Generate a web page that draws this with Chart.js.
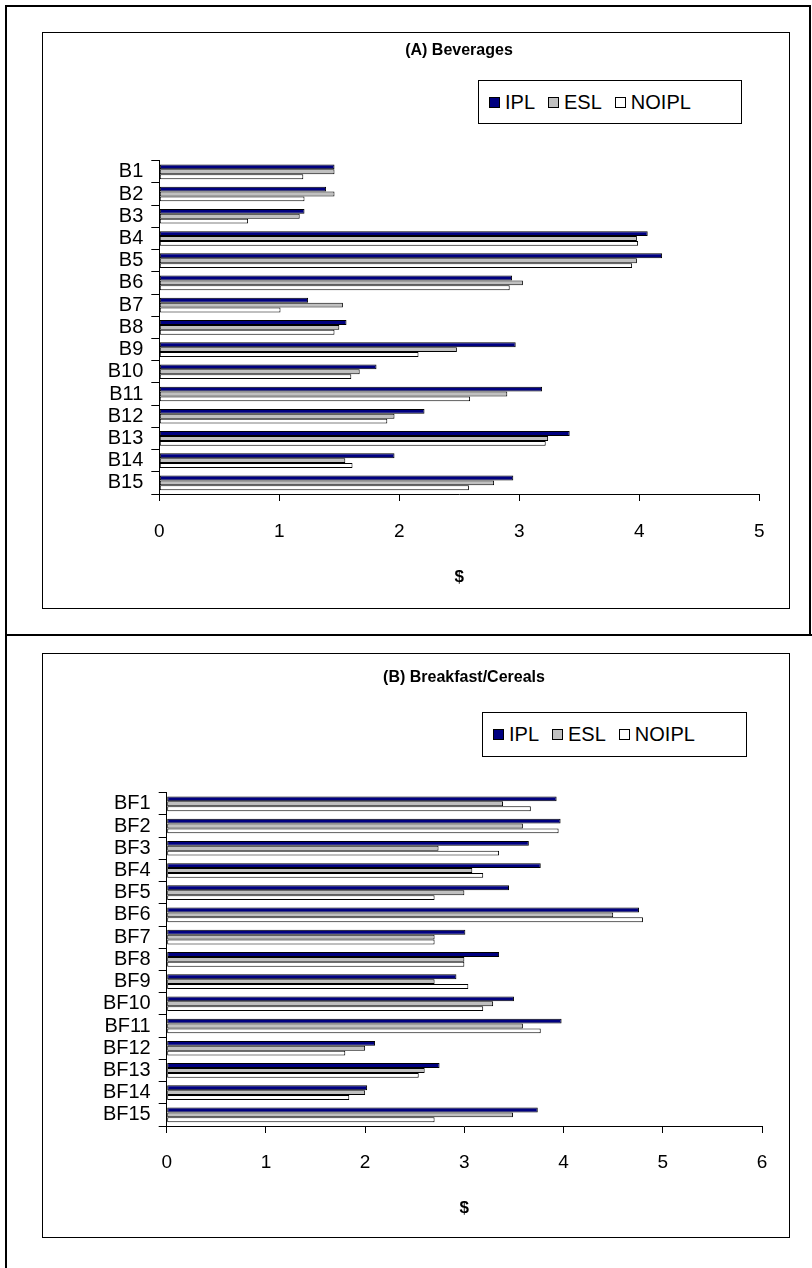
<!DOCTYPE html>
<html>
<head>
<meta charset="utf-8">
<title>Beverages and Breakfast/Cereals prices</title>
<script src="https://cdn.jsdelivr.net/npm/chart.js@4.4.1/dist/chart.umd.min.js"></script>
<style>
  html, body { margin: 0; padding: 0; background: #fff; }
  body { width: 812px; height: 1268px; position: relative; overflow: hidden;
         font-family: "Liberation Sans", Arial, sans-serif; color: #000; }
  .line { position: absolute; background: #000; }
  .box { position: absolute; border: 1px solid #000; box-sizing: border-box; }
  canvas { position: absolute; }
  .title { position: absolute; width: 400px; margin-left: -200px; text-align: center;
           font-weight: bold; font-size: 16px; line-height: 20px; }
  .legend { position: absolute; border: 1px solid #000; box-sizing: border-box; background: #fff;
            display: flex; align-items: center; padding-left: 10px; font-size: 20px; white-space: nowrap; }
  .legend .sw { display: inline-block; width: 11px; height: 11px; border: 1px solid #000;
                box-sizing: border-box; margin-right: 5px; }
  .legend .item { display: flex; align-items: center; margin-right: 13px; }
</style>
</head>
<body>
<!-- table frame around the two panels -->
<div class="line" style="left:5px;top:5px;width:2px;height:1263px"></div>
<div class="line" style="left:5px;top:5px;width:806px;height:2px"></div>
<div class="line" style="left:809px;top:5px;width:2px;height:631px"></div>
<div class="line" style="left:5px;top:634px;width:807px;height:2px"></div>

<!-- panel A -->
<div class="box" style="left:42px;top:32px;width:748px;height:577px"></div>
<canvas id="chartA" width="746" height="575" style="left:43px;top:33px"></canvas>
<div class="title" id="titleA" style="left:459px;top:40px"></div>
<div class="legend" id="legendA" style="left:478px;top:80px;width:264px;height:44px"></div>

<!-- panel B -->
<div class="box" style="left:42px;top:653px;width:748px;height:585px"></div>
<canvas id="chartB" width="746" height="583" style="left:43px;top:654px"></canvas>
<div class="title" id="titleB" style="left:464px;top:667px"></div>
<div class="legend" id="legendB" style="left:482px;top:712px;width:265px;height:45px"></div>

<script>
// (A) Beverages: average price in $ by product and label type
const bevLabels = ['B1','B2','B3','B4','B5','B6','B7','B8','B9','B10','B11','B12','B13','B14','B15'];
const bevIPL    = [1.46, 1.39, 1.21, 4.07, 4.19, 2.94, 1.24, 1.56, 2.97, 1.81, 3.19, 2.21, 3.42, 1.96, 2.95];
const bevESL    = [1.46, 1.46, 1.17, 3.98, 3.98, 3.03, 1.53, 1.50, 2.48, 1.67, 2.90, 1.96, 3.24, 1.55, 2.79];
const bevNOIPL  = [1.20, 1.21, 0.74, 3.99, 3.94, 2.92, 1.01, 1.46, 2.16, 1.60, 2.59, 1.90, 3.22, 1.61, 2.58];
const bevTicks  = [0, 1, 2, 3, 4, 5];

// (B) Breakfast/Cereals
const bfLabels  = ['BF1','BF2','BF3','BF4','BF5','BF6','BF7','BF8','BF9','BF10','BF11','BF12','BF13','BF14','BF15'];
const bfIPL     = [3.93, 3.97, 3.65, 3.77, 3.45, 4.76, 3.01, 3.35, 2.92, 3.50, 3.98, 2.10, 2.75, 2.02, 3.74];
const bfESL     = [3.39, 3.59, 2.74, 3.08, 3.00, 4.50, 2.70, 3.00, 2.70, 3.29, 3.59, 2.00, 2.60, 2.00, 3.49];
const bfNOIPL   = [3.67, 3.95, 3.35, 3.19, 2.70, 4.80, 2.70, 3.00, 3.04, 3.19, 3.77, 1.80, 2.54, 1.84, 2.70];
const bfTicks   = [0, 1, 2, 3, 4, 5, 6];

const seriesNames  = ['IPL', 'ESL', 'NOIPL'];
const seriesColors = ['#000080', '#c0c0c0', '#ffffff'];

Chart.defaults.font.family = '"Liberation Sans", Arial, sans-serif';
Chart.defaults.color = '#000';
Chart.defaults.animation = false;

function buildLegend(id) {
  const el = document.getElementById(id);
  seriesNames.forEach((name, i) => {
    const item = document.createElement('span');
    item.className = 'item';
    const sw = document.createElement('span');
    sw.className = 'sw';
    sw.style.background = seriesColors[i];
    const tx = document.createElement('span');
    tx.textContent = name;
    item.appendChild(sw);
    item.appendChild(tx);
    el.appendChild(item);
  });
}

function makeChart(id, cfg) {
  document.getElementById(cfg.titleId).textContent = cfg.title;
  const datasets = [cfg.ipl, cfg.esl, cfg.noipl].map((vals, i) => ({
    label: seriesNames[i],
    data: vals,
    backgroundColor: seriesColors[i],
    borderColor: '#000',
    borderWidth: 1,
    borderSkipped: false,
    categoryPercentage: 0.66,
    barPercentage: 1.0
  }));
  return new Chart(document.getElementById(id), {
    type: 'bar',
    data: { labels: cfg.labels, datasets },
    options: {
      indexAxis: 'y',
      responsive: false,
      devicePixelRatio: 1,
      layout: { padding: { left: 0, right: cfg.padRight, top: cfg.padTop, bottom: 0 } },
      plugins: {
        legend: { display: false },
        tooltip: { enabled: false },
        title: { display: false }
      },
      scales: {
        x: {
          type: 'linear',
          min: 0,
          max: cfg.ticks[cfg.ticks.length - 1],
          afterBuildTicks: (scale) => { scale.ticks = cfg.ticks.map(v => ({ value: v })); },
          grid: { drawOnChartArea: false, drawTicks: true, tickLength: 7, color: '#000', lineWidth: 1 },
          border: { display: true, color: '#000', width: 1 },
          ticks: { font: { size: 19 }, padding: cfg.xTickPad, maxRotation: 0 },
          title: { display: true, text: '$', font: { size: 17, weight: 'bold' },
                   padding: { top: 0, bottom: cfg.xTitlePad } },
          afterFit: (scale) => { scale.height = cfg.xAxisHeight; }
        },
        y: {
          type: 'category',
          grid: { offset: true, drawOnChartArea: false, drawTicks: true, tickLength: 8, color: '#000', lineWidth: 1 },
          border: { display: true, color: '#000', width: 1 },
          ticks: { font: { size: 20 }, padding: cfg.yTickPad, autoSkip: false },
          afterFit: (scale) => { scale.width = cfg.yAxisWidth; }
        }
      }
    }
  });
}

buildLegend('legendA');
buildLegend('legendB');

makeChart('chartA', {
  title: '(A) Beverages', titleId: 'titleA',
  labels: bevLabels, ipl: bevIPL, esl: bevESL, noipl: bevNOIPL, ticks: bevTicks,
  padTop: 127.7, padRight: 29.7, yAxisWidth: 116.3, xAxisHeight: 114,
  xTickPad: 19, xTitlePad: 20, yTickPad: 8
});

makeChart('chartB', {
  title: '(B) Breakfast/Cereals', titleId: 'titleB',
  labels: bfLabels, ipl: bfIPL, esl: bfESL, noipl: bfNOIPL, ticks: bfTicks,
  padTop: 138.7, padRight: 27, yAxisWidth: 123.7, xAxisHeight: 111,
  xTickPad: 18, xTitlePad: 18, yTickPad: 8
});
</script>
</body>
</html>
